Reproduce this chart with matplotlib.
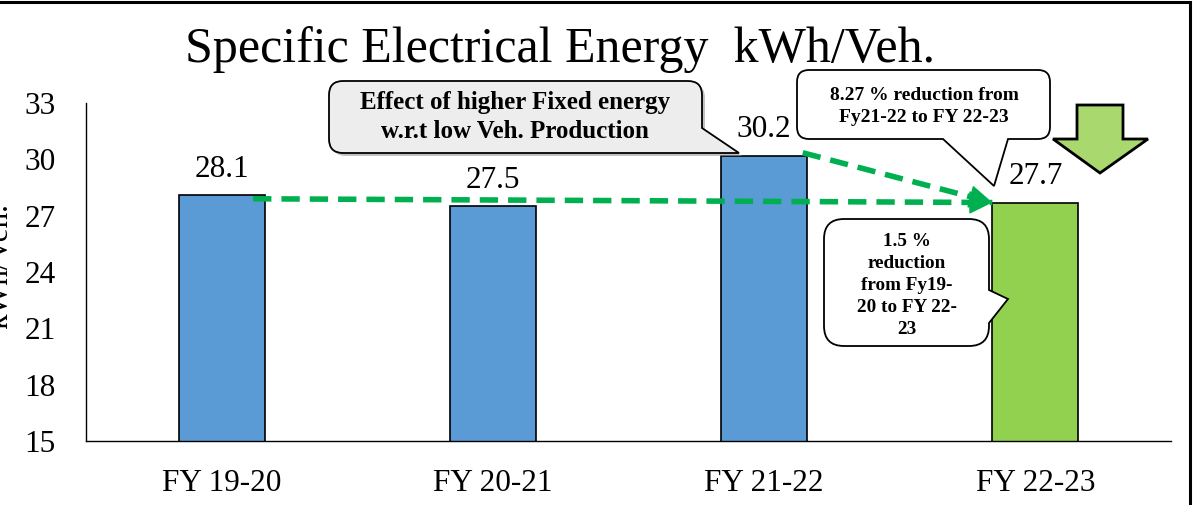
import matplotlib
matplotlib.use('Agg')
import matplotlib.pyplot as plt
from matplotlib.path import Path
from matplotlib.patches import PathPatch, Rectangle, Polygon
from matplotlib.transforms import Affine2D

years = ['FY 19-20', 'FY 20-21', 'FY 21-22', 'FY 22-23']
energy = [28.1, 27.5, 30.2, 27.7]
bar_colors = ['#5B9BD5', '#5B9BD5', '#5B9BD5', '#92D050']
yticks = [15, 18, 21, 24, 27, 30, 33]

W, H = 1193, 505
plt.rcParams['font.family'] = ['Liberation Serif', 'DejaVu Serif']

fig = plt.figure(figsize=(W / 100, H / 100), dpi=100)
ax = fig.add_axes([86 / W, 1 - 441 / H, (1171 - 86) / W, (441 - 103) / H])

x = range(len(years))
bars = ax.bar(x, energy, width=0.317, color=bar_colors, edgecolor='black', linewidth=1.2, zorder=2)
for b, v in zip(bars, energy):
    ax.annotate('%.1f' % v, (b.get_x() + b.get_width() / 2, v), xytext=(0, 8),
                textcoords='offset points', ha='center', va='bottom', fontsize=22.5)

ax.set_xlim(-0.5, 3.5)
ax.set_ylim(15, 33)
ax.set_yticks(yticks)
ax.set_xticks(list(x))
ax.set_xticklabels(years)
ax.tick_params(axis='y', length=0, pad=22, labelsize=22.5)
ax.tick_params(axis='x', length=0, pad=20, labelsize=22.5)
for s in ['top', 'right']:
    ax.spines[s].set_visible(False)
for s in ['left', 'bottom']:
    ax.spines[s].set_linewidth(1.0)

fig.text(560 / W, 1 - 50 / H, 'Specific Electrical Energy  kWh/Veh.', ha='center', va='center', fontsize=36)
fig.text(0 / W, 1 - 266 / H, 'kWh/Veh.', rotation=90, ha='center', va='center', fontsize=22.5)

# dashed trend arrows (bar edges to the FY 22-23 bar)
green = '#00B050'
half = 0.317 / 2


def trend(start, end):
    ax.plot([start[0], end[0]], [start[1], end[1]], color=green, lw=4,
            linestyle=(0, (3.3, 1.8)), solid_capstyle='butt', zorder=4)
    p0 = ax.transData.transform(start)
    p1 = ax.transData.transform(end)
    frac = 22 / ((p1 - p0) ** 2).sum() ** 0.5
    back = (end[0] - frac * (end[0] - start[0]), end[1] - frac * (end[1] - start[1]))
    ax.annotate('', xy=end, xytext=back, zorder=5,
                arrowprops=dict(arrowstyle='-|>,head_length=1.5,head_width=0.75', color=green,
                                lw=1, shrinkA=0, shrinkB=0))


trend((0.116, energy[0] - 0.2), (3 - half, energy[3]))
trend((2 - 0.016 + half, energy[2] + 0.15), (3 - half, energy[3]))

# pixel-space helper for callouts
px = Affine2D().scale(1 / W, -1 / H).translate(0, 1) + fig.transFigure


def rounded(x0, y0, x1, y1, r, bottom_tail=None, right_tail=None, corner_tail=None):
    v = [(x0 + r, y0), (x1 - r, y0), (x1, y0), (x1, y0 + r)]
    c = [Path.MOVETO, Path.LINETO, Path.CURVE3, Path.CURVE3]
    if right_tail:
        a, tip, b = right_tail
        v += [(x1, a), tip, (x1, b)]
        c += [Path.LINETO] * 3
    if corner_tail:
        a, tip, bx = corner_tail
        v += [(x1, a), tip, (bx, y1)]
        c += [Path.LINETO] * 3
    else:
        v += [(x1, y1 - r), (x1, y1), (x1 - r, y1)]
        c += [Path.LINETO, Path.CURVE3, Path.CURVE3]
    if bottom_tail:
        b, tip, a = bottom_tail
        v += [(b, y1), tip, (a, y1)]
        c += [Path.LINETO] * 3
    v += [(x0 + r, y1), (x0, y1), (x0, y1 - r), (x0, y0 + r), (x0, y0), (x0 + r, y0), (x0 + r, y0)]
    c += [Path.LINETO, Path.CURVE3, Path.CURVE3, Path.LINETO, Path.CURVE3, Path.CURVE3, Path.CLOSEPOLY]
    return Path(v, c)


def callout(path, face, shadow=False):
    if shadow:
        sh = PathPatch(path, transform=Affine2D().translate(3, 3) + px, facecolor='#9A9A9A',
                       edgecolor='none', alpha=0.6, zorder=5)
        fig.add_artist(sh)
    fig.add_artist(PathPatch(path, transform=px, facecolor=face, edgecolor='black', lw=1.3, zorder=6))


callout(rounded(329, 81, 702, 153, 14, corner_tail=(128, (739, 153), 684)), '#EDEDED', shadow=True)
for t, yy in [('Effect of higher Fixed energy', 103), ('w.r.t low Veh. Production', 132)]:
    fig.text(515 / W, 1 - yy / H, t, ha='center', va='center', fontsize=18, fontweight='bold', zorder=7)

callout(rounded(797, 70, 1050, 139, 12, bottom_tail=(1008, (994, 186), 943)), 'white')
for t, yy in [('8.27 % reduction from', 95), ('Fy21-22 to FY 22-23', 118)]:
    fig.text(924 / W, 1 - yy / H, t, ha='center', va='center', fontsize=14, fontweight='bold', zorder=7)

callout(rounded(824, 219, 989, 346, 20, right_tail=(290, (1008, 299), 323)), 'white')
lines = ['1.5 %', 'reduction', 'from Fy19-', '20 to FY 22-', '23']
for i, t in enumerate(lines):
    fig.text(907 / W, 1 - (241 + 22 * i) / H, t, ha='center', va='center', fontsize=13.8,
             fontweight='bold', zorder=7)

# block arrow pointing down
down = [(1077, 105), (1123, 105), (1123, 139), (1148, 139), (1100, 173),
        (1053, 139), (1077, 139)]
fig.add_artist(Polygon(down, closed=True, transform=px, facecolor='#A9D86E',
                       edgecolor='black', lw=2, zorder=6))

# outer frame
fig.add_artist(Rectangle((-10, 2), 1200, 600, transform=px, fill=False, edgecolor='black', lw=2.2))

fig.savefig('out.png', dpi=100)
